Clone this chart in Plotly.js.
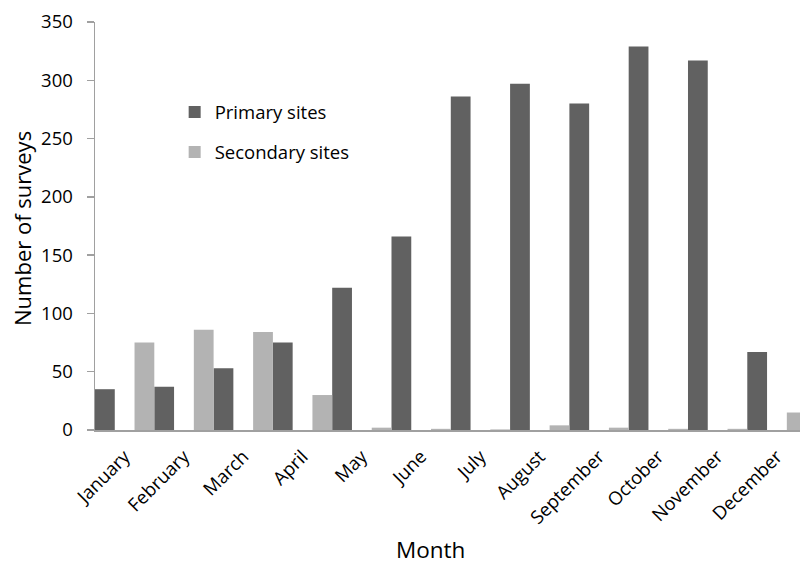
<!DOCTYPE html>
<html>
<head>
<meta charset="utf-8">
<script src="https://cdn.plot.ly/plotly-3.0.1.min.js"></script>
<style>html,body{margin:0;padding:0;overflow:hidden;background:#fff}</style>
</head>
<body>
<div id="chart" style="width:800px;height:565px"></div>
<script>
const months = ["January","February","March","April","May","June","July","August","September","October","November","December"];
const primarySites = [35, 37, 53, 75, 122, 166, 286, 297, 280, 329, 317, 67];
const secondarySites = [75, 86, 84, 30, 2, 1, 0.5, 4, 2, 1, 1, 15];
const seriesNames = ["Primary sites", "Secondary sites"];

const FONT = "'Open Sans', sans-serif";
const barW = 1/3;

const traces = [
  {
    type: "bar", name: seriesNames[0], x: months, y: primarySites,
    offset: -0.5, width: barW,
    marker: {color: "#616161", line: {width: 0}},
    legendgroup: "a"
  },
  {
    type: "bar", name: seriesNames[1], x: months, y: secondarySites,
    offset: 0.5 - barW, width: barW,
    marker: {color: "#b3b3b3", line: {width: 0}},
    legendgroup: "b"
  }
];

const layout = {
  width: 800, height: 565,
  margin: {l: 95, r: 0, t: 22, b: 135},
  paper_bgcolor: "#fff", plot_bgcolor: "#fff",
  font: {family: FONT, size: 18, color: "#000"},
  barmode: "overlay",
  showlegend: true,
  legend: {
    x: 0.113, y: 0.825, xanchor: "left", yanchor: "top",
    font: {family: FONT, size: 18.5, color: "#000"},
    tracegroupgap: 13, traceorder: "grouped",
    bgcolor: "rgba(0,0,0,0)"
  },
  xaxis: {
    type: "category",
    range: [-0.5, 11.389],
    showgrid: false, zeroline: false,
    showline: true, linecolor: "#a0a0a0", linewidth: 1.5,
    ticks: "", tickangle: -45, ticklabelstandoff: 7,
    tickfont: {family: FONT, size: 18.5, color: "#000"},
    fixedrange: true
  },
  yaxis: {
    range: [0, 350], dtick: 50,
    showgrid: false, zeroline: false,
    showline: true, linecolor: "#a0a0a0", linewidth: 1.5,
    ticks: "outside", ticklen: 7, tickcolor: "#a0a0a0", tickwidth: 1.5,
    ticklabelstandoff: 10,
    tickfont: {family: FONT, size: 18.5, color: "#000"}
  },
  annotations: [
    {text: "Month", xref: "paper", yref: "paper", x: (430-95)/705, y: -(549-430)/408, xanchor: "center", yanchor: "middle", showarrow: false, font: {family: FONT, size: 22.5, color: "#000"}},
    {text: "Number of surveys", textangle: -90, xref: "paper", yref: "paper", x: (22-95)/705, y: (430-229)/408, xanchor: "center", yanchor: "middle", showarrow: false, font: {family: FONT, size: 22, color: "#000"}}
  ]
};

Plotly.newPlot("chart", traces, layout, {displayModeBar: false, staticPlot: true});
</script>
</body>
</html>
